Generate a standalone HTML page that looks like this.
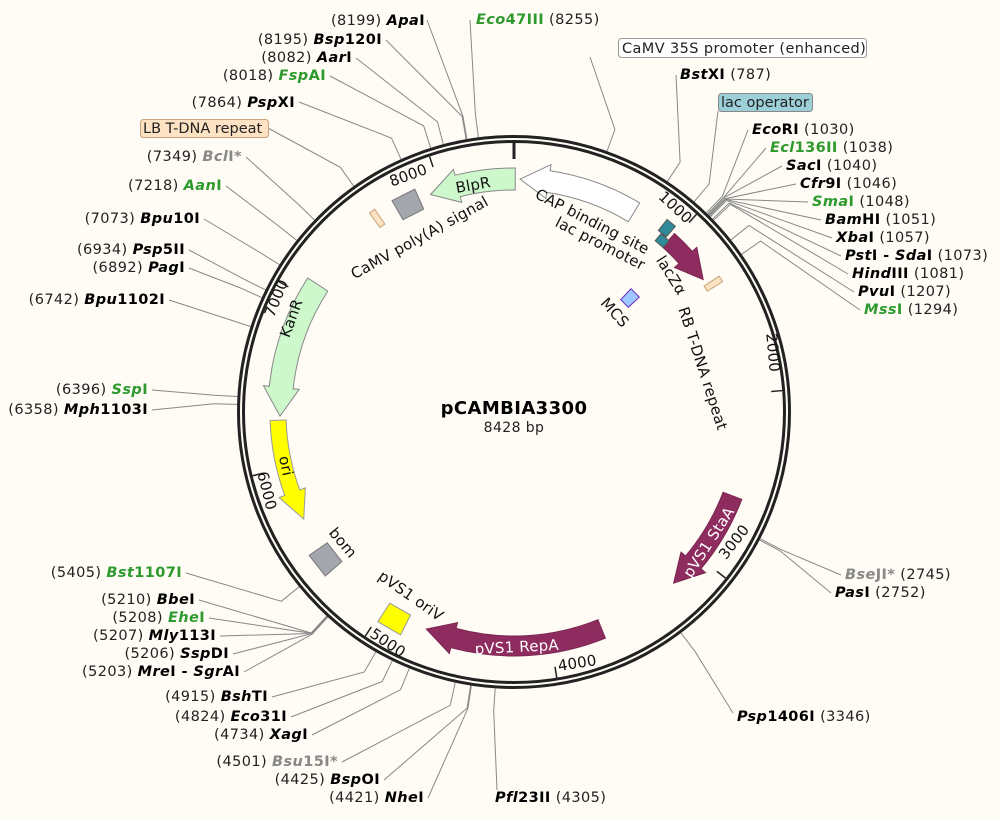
<!DOCTYPE html>
<html><head><meta charset="utf-8"><style>
html,body{margin:0;padding:0;background:#fffcf5;}
svg{display:block;font-family:"DejaVu Sans","Liberation Sans",sans-serif;font-size:14.5px;letter-spacing:0.4px;}
.e{font-weight:bold;fill:#000}
.g{font-weight:bold;fill:#2e9a2e}
.q{font-weight:bold;fill:#888}
.n{fill:#222;font-weight:normal;font-style:normal}
.f{font-size:15px;fill:#111;letter-spacing:0.2px}
</style></head><body>
<svg id="s" width="1001" height="818" viewBox="0 0 1001 818" xmlns="http://www.w3.org/2000/svg">
<rect width="1001" height="818" fill="#fffcf5"/>
<g id="lines" stroke="#888" stroke-width="1" fill="none"></g>
<circle cx="514" cy="412" r="275.5" fill="none" stroke="#222" stroke-width="3"/>
<circle cx="514" cy="412" r="270.5" fill="none" stroke="#222" stroke-width="3"/>
<g id="feat"></g>
<g id="ticks" stroke="#222" stroke-width="1.5"></g>
<g class="f" font-size="14">
<text transform="translate(672,211) rotate(42.7)" text-anchor="middle">1000</text>
<text transform="translate(768,353) rotate(85)" text-anchor="middle">2000</text>
<text transform="translate(738,545) rotate(-52)" text-anchor="middle">3000</text>
<text transform="translate(578,668) rotate(-9)" text-anchor="middle">4000</text>
<text transform="translate(385,647) rotate(34)" text-anchor="middle">5000</text>
<text transform="translate(262,492) rotate(76)" text-anchor="middle">6000</text>
<text transform="translate(281,300) rotate(-68)" text-anchor="middle">7000</text>
<text transform="translate(410,180) rotate(-20)" text-anchor="middle">8000</text>
</g>
<g class="f">
<text transform="translate(474,190) rotate(-10)" text-anchor="middle">BlpR</text>
<text transform="translate(422,242) rotate(-29)" text-anchor="middle">CaMV poly(A) signal</text>
<text transform="translate(590,226) rotate(27)" text-anchor="middle">CAP binding site</text>
<text transform="translate(598,248) rotate(27)" text-anchor="middle">lac promoter</text>
<text transform="translate(667,278) rotate(58)" text-anchor="middle">lacZα</text>
<text transform="translate(611,316) rotate(48)" text-anchor="middle">MCS</text>
<text transform="translate(698,370) rotate(72)" text-anchor="middle">RB T-DNA repeat</text>
<text transform="translate(296,320) rotate(-70)" text-anchor="middle">KanR</text>
<text transform="translate(281,467) rotate(78)" text-anchor="middle">ori</text>
<text transform="translate(339,546) rotate(50)" text-anchor="middle">bom</text>
<text transform="translate(408,600) rotate(35)" text-anchor="middle">pVS1 oriV</text>
<text transform="translate(517,652) rotate(-3)" text-anchor="middle" fill="#fff">pVS1 RepA</text>
<text transform="translate(713,545) rotate(-57)" text-anchor="middle" fill="#fff">pVS1 StaA</text>
</g>
<text x="514" y="414" text-anchor="middle" font-weight="bold" font-size="18" fill="#000">pCAMBIA3300</text>
<text x="514" y="432" text-anchor="middle" font-size="14" fill="#222">8428 bp</text>
<g text-anchor="end">
<text x="425" y="25" class="e"><tspan class="n">(8199)  </tspan><tspan font-style="italic">Apa</tspan>I</text>
<text x="382" y="44" class="e"><tspan class="n">(8195)  </tspan><tspan font-style="italic">Bsp</tspan>120I</text>
<text x="352" y="62" class="e"><tspan class="n">(8082)  </tspan><tspan font-style="italic">Aar</tspan>I</text>
<text x="326" y="80" class="g"><tspan class="n">(8018)  </tspan><tspan font-style="italic">Fsp</tspan>AI</text>
<text x="295" y="107" class="e"><tspan class="n">(7864)  </tspan><tspan font-style="italic">Psp</tspan>XI</text>
<text x="242" y="161" class="q"><tspan class="n">(7349)  </tspan><tspan font-style="italic">Bcl</tspan>I*</text>
<text x="222" y="190" class="g"><tspan class="n">(7218)  </tspan><tspan font-style="italic">Aan</tspan>I</text>
<text x="200" y="223" class="e"><tspan class="n">(7073)  </tspan><tspan font-style="italic">Bpu</tspan>10I</text>
<text x="185" y="254" class="e"><tspan class="n">(6934)  </tspan><tspan font-style="italic">Psp</tspan>5II</text>
<text x="185" y="272" class="e"><tspan class="n">(6892)  </tspan><tspan font-style="italic">Pag</tspan>I</text>
<text x="165" y="304" class="e"><tspan class="n">(6742)  </tspan><tspan font-style="italic">Bpu</tspan>1102I</text>
<text x="148" y="394" class="g"><tspan class="n">(6396)  </tspan><tspan font-style="italic">Ssp</tspan>I</text>
<text x="148" y="414" class="e"><tspan class="n">(6358)  </tspan><tspan font-style="italic">Mph</tspan>1103I</text>
<text x="182" y="577" class="g"><tspan class="n">(5405)  </tspan><tspan font-style="italic">Bst</tspan>1107I</text>
<text x="195" y="604" class="e"><tspan class="n">(5210)  </tspan><tspan font-style="italic">Bbe</tspan>I</text>
<text x="205" y="622" class="g"><tspan class="n">(5208)  </tspan><tspan font-style="italic">Ehe</tspan>I</text>
<text x="216" y="640" class="e"><tspan class="n">(5207)  </tspan><tspan font-style="italic">Mly</tspan>113I</text>
<text x="229" y="658" class="e"><tspan class="n">(5206)  </tspan><tspan font-style="italic">Ssp</tspan>DI</text>
<text x="240" y="676" class="e"><tspan class="n">(5203)  </tspan><tspan font-style="italic">Mre</tspan>I - <tspan font-style="italic">Sgr</tspan>AI</text>
<text x="268" y="701" class="e"><tspan class="n">(4915)  </tspan><tspan font-style="italic">Bsh</tspan>TI</text>
<text x="287" y="721" class="e"><tspan class="n">(4824)  </tspan><tspan font-style="italic">Eco</tspan>31I</text>
<text x="308" y="739" class="e"><tspan class="n">(4734)  </tspan><tspan font-style="italic">Xag</tspan>I</text>
<text x="338" y="766" class="q"><tspan class="n">(4501)  </tspan><tspan font-style="italic">Bsu</tspan>15I*</text>
<text x="380" y="784" class="e"><tspan class="n">(4425)  </tspan><tspan font-style="italic">Bsp</tspan>OI</text>
<text x="424" y="802" class="e"><tspan class="n">(4421)  </tspan><tspan font-style="italic">Nhe</tspan>I</text>
</g>
<g>
<text x="476" y="24" class="g"><tspan font-style="italic">Eco</tspan>47III<tspan class="n">  (8255)</tspan></text>
<text x="680" y="79" class="e"><tspan font-style="italic">Bst</tspan>XI<tspan class="n">  (787)</tspan></text>
<text x="752" y="134" class="e"><tspan font-style="italic">Eco</tspan>RI<tspan class="n">  (1030)</tspan></text>
<text x="770" y="152" class="g"><tspan font-style="italic">Ecl</tspan>136II<tspan class="n">  (1038)</tspan></text>
<text x="786" y="170" class="e"><tspan font-style="italic">Sac</tspan>I<tspan class="n">  (1040)</tspan></text>
<text x="800" y="188" class="e"><tspan font-style="italic">Cfr</tspan>9I<tspan class="n">  (1046)</tspan></text>
<text x="812" y="206" class="g"><tspan font-style="italic">Sma</tspan>I<tspan class="n">  (1048)</tspan></text>
<text x="825" y="224" class="e"><tspan font-style="italic">Bam</tspan>HI<tspan class="n">  (1051)</tspan></text>
<text x="836" y="242" class="e"><tspan font-style="italic">Xba</tspan>I<tspan class="n">  (1057)</tspan></text>
<text x="845" y="260" class="e"><tspan font-style="italic">Pst</tspan>I - <tspan font-style="italic">Sda</tspan>I<tspan class="n">  (1073)</tspan></text>
<text x="852" y="278" class="e"><tspan font-style="italic">Hind</tspan>III<tspan class="n">  (1081)</tspan></text>
<text x="858" y="296" class="e"><tspan font-style="italic">Pvu</tspan>I<tspan class="n">  (1207)</tspan></text>
<text x="864" y="314" class="g"><tspan font-style="italic">Mss</tspan>I<tspan class="n">  (1294)</tspan></text>
<text x="845" y="579" class="q"><tspan font-style="italic">Bse</tspan>JI*<tspan class="n">  (2745)</tspan></text>
<text x="835" y="597" class="e"><tspan font-style="italic">Pas</tspan>I<tspan class="n">  (2752)</tspan></text>
<text x="737" y="721" class="e"><tspan font-style="italic">Psp</tspan>1406I<tspan class="n">  (3346)</tspan></text>
<text x="495" y="802" class="e"><tspan font-style="italic">Pfl</tspan>23II<tspan class="n">  (4305)</tspan></text>
</g>
<rect x="618.5" y="38.5" width="248" height="19" rx="3" fill="#fff" stroke="#999"/>
<text x="622" y="53" fill="#222">CaMV 35S promoter (enhanced)</text>
<rect x="718.5" y="93.5" width="94" height="18" rx="3" fill="#9ccfd8" stroke="#888"/>
<text x="721" y="107" fill="#222" letter-spacing="0">lac operator</text>
<rect x="140.5" y="119.5" width="128" height="18" rx="3" fill="#fde2c4" stroke="#c9a37a"/>
<text x="143" y="133" fill="#222" letter-spacing="0">LB T-DNA repeat</text>
</svg>
<script>
var cx=514,cy=412,D=Math.PI/180;
function P(a,r){return [cx+r*Math.sin(a*D),cy-r*Math.cos(a*D)];}
function f(p){return p[0].toFixed(1)+","+p[1].toFixed(1);}
var L=document.getElementById("lines"),F=document.getElementById("feat"),T=document.getElementById("ticks");
function el(p,tag,at){var e=document.createElementNS("http://www.w3.org/2000/svg",tag);for(var k in at)e.setAttribute(k,at[k]);p.appendChild(e);return e;}
var lines=[[427,20,8199],[386,40,8195],[356,58,8082],[330,76,8018],[299,102,7864],[268,128,7600],[246,157,7349],[226,186,7218],[204,219,7073],[189,250,6934],[189,268,6892],[169,300,6742],[152,390,6396],[152,410,6358],
[186,573,5405],[199,600,5210],[209,618,5208],[220,636,5207],[233,654,5206],[244,672,5203],[272,697,4915],[291,717,4824],[312,735,4734],[342,762,4501],[384,780,4425],[428,798,4421],[497,790,4305],
[470,20,8255],[590,57,460],[676,75,787],[718,111,950],[748,130,1030],[766,148,1038],[782,166,1040],[796,184,1046],[808,202,1048],[821,220,1051],[832,238,1057],[841,256,1073],[848,274,1081],[854,292,1207],[860,310,1294],
[841,575,2745],[831,593,2752],[733,713,3346]];
lines.forEach(function(l){var a=l[2]/8428*360;var m=P(a,300),e=P(a,277);el(L,"polyline",{points:l[0]+","+l[1]+" "+f(m)+" "+f(e)});});
for(var i=1;i<=8;i++){var a=i*1000/8428*360;el(T,"line",{x1:P(a,269)[0],y1:P(a,269)[1],x2:P(a,258)[0],y2:P(a,258)[1]});}
el(T,"line",{x1:514,y1:143,x2:514,y2:159,"stroke-width":3});
function arc(a1,a2,r){return "A"+r+","+r+" 0 0,"+(a2>a1?1:0)+" "+f(P(a2,r));}
function arrow(a1,a2,ri,ro,fill,st){var dir=a2>a1?1:-1,hl=7*dir,ab=a2-hl,rm=(ri+ro)/2;
var d="M"+f(P(a1,ro))+arc(a1,ab,ro)+"L"+f(P(ab,ro+6))+"L"+f(P(a2,rm))+"L"+f(P(ab,ri-6))+"L"+f(P(ab,ri))+arc(ab,a1,ri)+"Z";
el(F,"path",{d:d,fill:fill,stroke:st||"#888","stroke-width":1});}
function box(a1,a2,ri,ro,fill,st){var d="M"+f(P(a1,ro))+"L"+f(P(a2,ro))+"L"+f(P(a2,ri))+"L"+f(P(a1,ri))+"Z";el(F,"path",{d:d,fill:fill,stroke:st||"#888","stroke-width":1});}
arrow(0.3,-21,222,244,"#ccf8cc");
arrow(31,1.5,222,244,"#ffffff");
arrow(42,55,222,240,"#8e2c5f","#7a2550");
arrow(-57,-91,222,246,"#ccf8cc");
arrow(-92,-117,228,244,"#ffff00","#999");
arrow(158,202,224,244,"#8e2c5f","#7a2550");
arrow(111,137,224,244,"#8e2c5f","#7a2550");
box(-24,-30,222,244,"#a3a7ad","#777");
box(-34.5,-36,228,246,"#fde2c4","#c9a37a");
box(38.5,41,232,246,"#2f8a9a","#555");box(39.5,42.2,222,231,"#2f8a9a","#555");
box(56.5,58,228,246,"#fde2c4","#c9a37a");
box(43.5,47.5,155,170,"#9ec8ff","#6a2cc8");
box(-125,-131,228,250,"#a3a7ad","#777");
box(-147,-153,228,250,"#ffff00","#999");
</script>
</body></html>
